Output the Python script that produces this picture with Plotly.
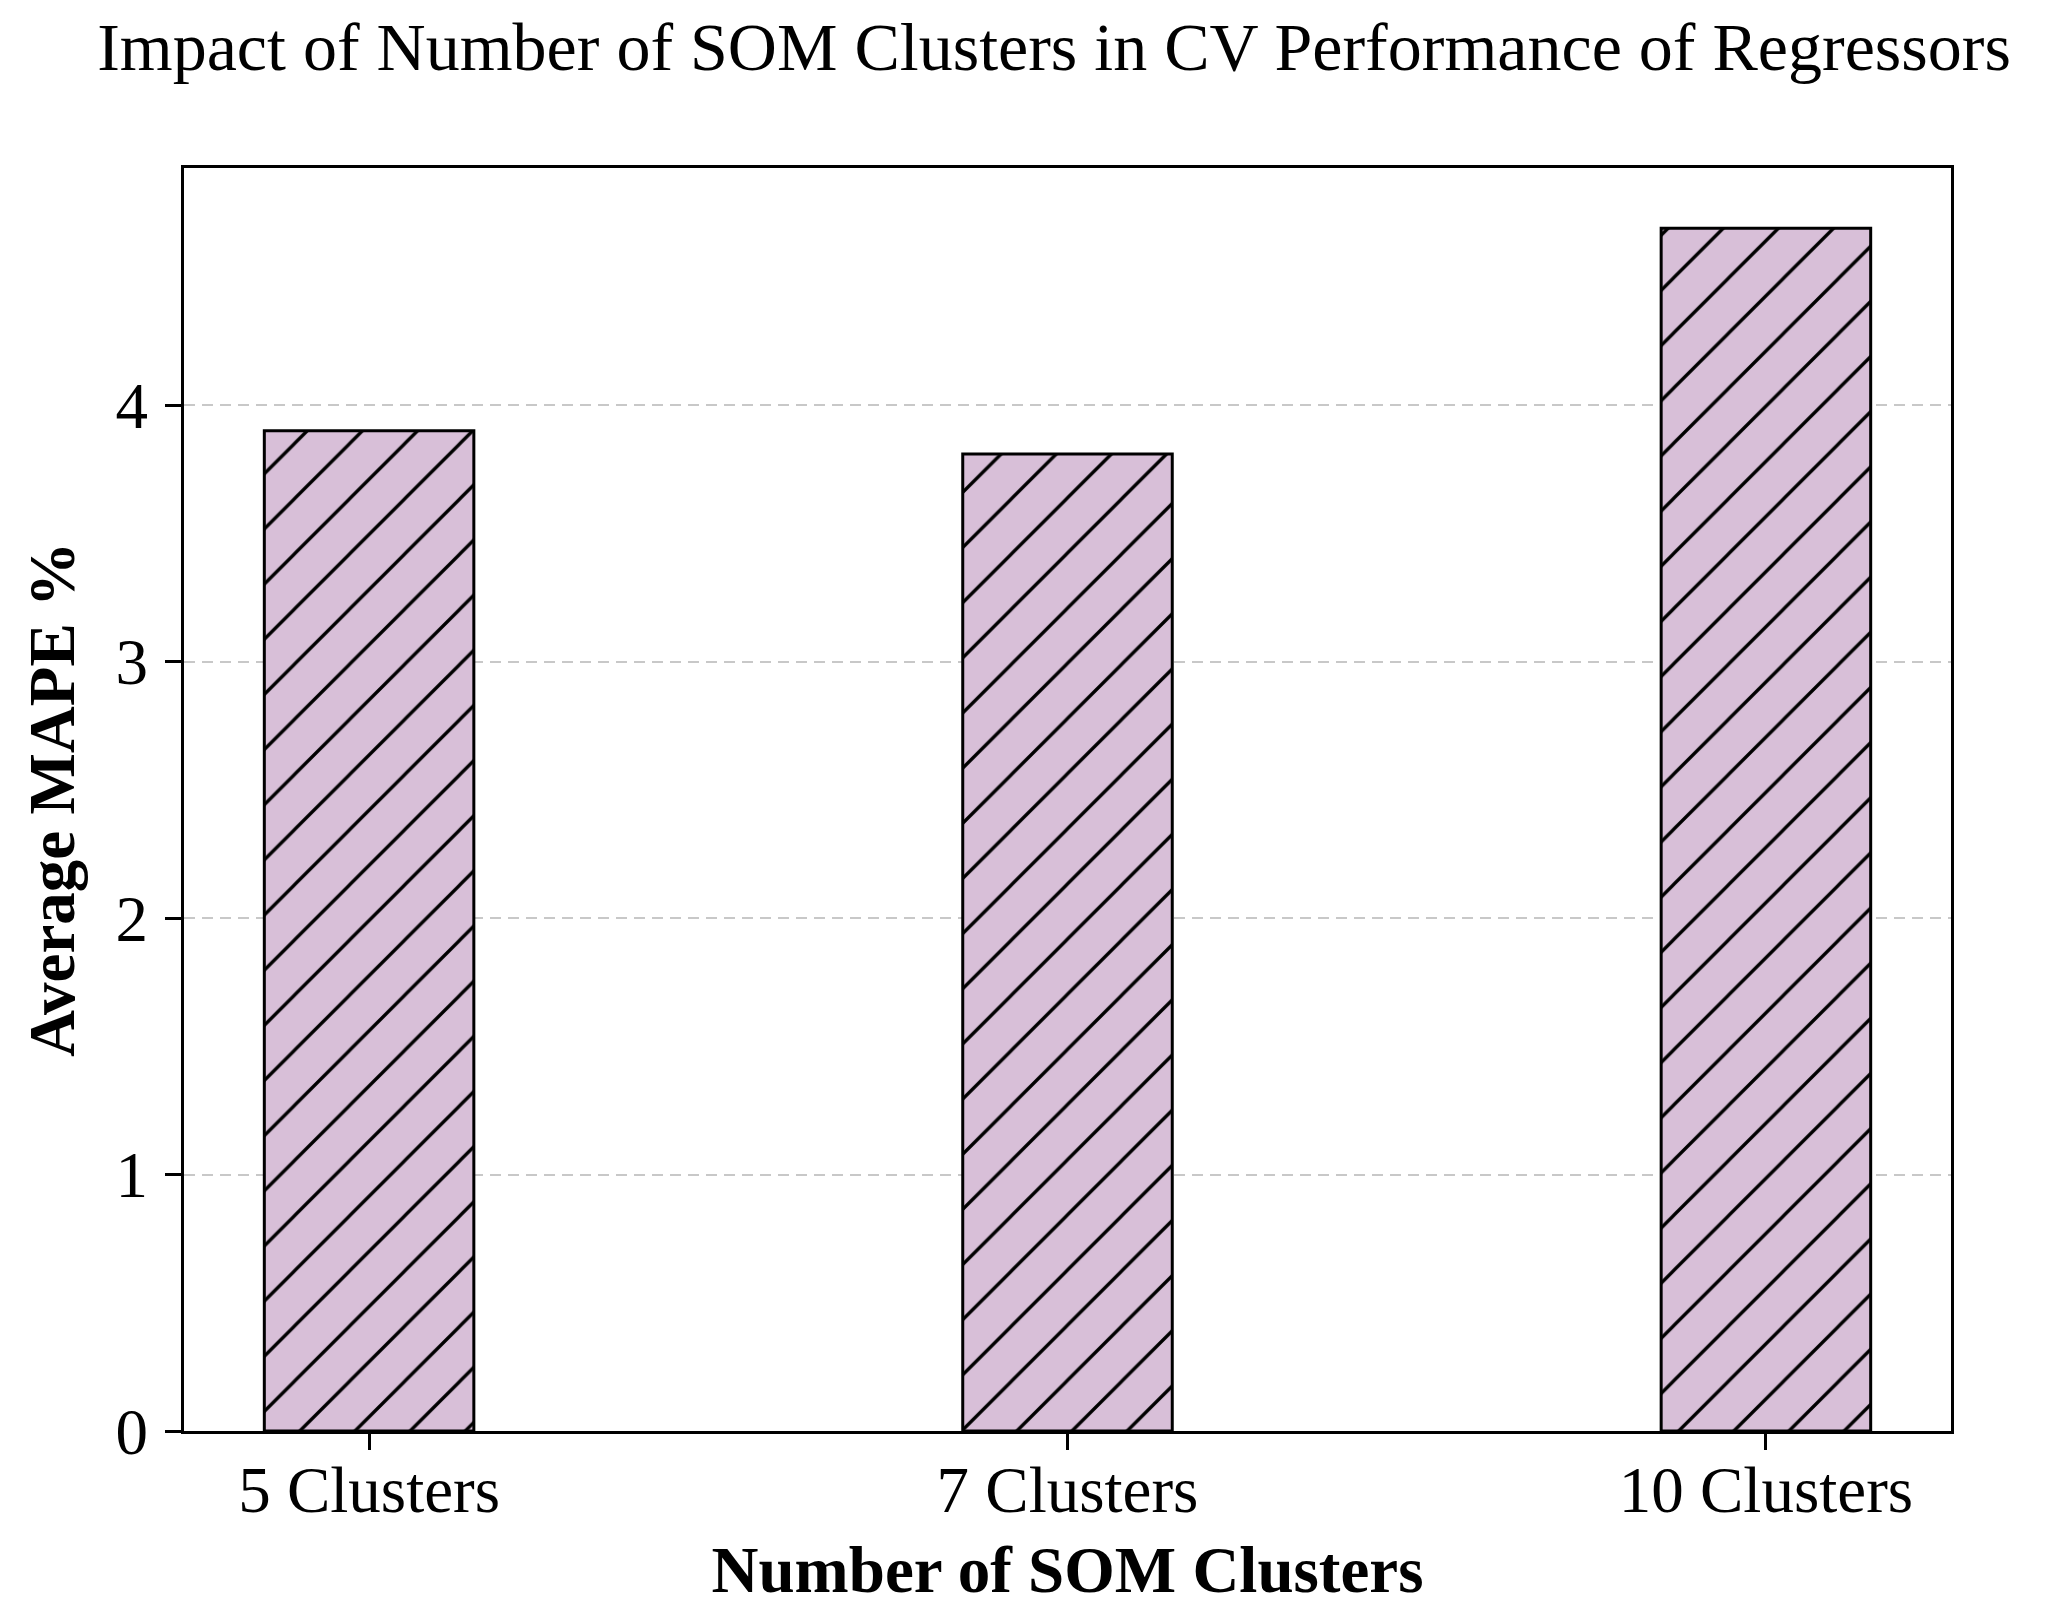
import plotly.graph_objects as go

categories = ["5 Clusters", "7 Clusters", "10 Clusters"]
mape_values = [3.90, 3.81, 4.69]
y_tick_values = [0, 1, 2, 3, 4]

FONT = "Liberation Serif, Times New Roman, serif"
W, H = 2055, 1615

fig = go.Figure()
fig.add_trace(go.Bar(
    x=categories,
    y=mape_values,
    width=0.3,
    marker=dict(
        color="#d8bfd8",
        line=dict(color="black", width=3),
        pattern=dict(shape="/", fgcolor="black", fgopacity=1, bgcolor="#d8bfd8",
                     size=39, solidity=0.085, fillmode="replace"),
    ),
    showlegend=False,
))

fig.update_layout(
    width=W, height=H,
    margin=dict(l=176, r=112, t=160, b=192),
    paper_bgcolor="white", plot_bgcolor="white",
    font=dict(family=FONT, size=65, color="black"),
    title=dict(text="Impact of Number of SOM Clusters in CV Performance of Regressors",
               x=0.509, xanchor="center", y=1 - 38 / H, yanchor="middle",
               font=dict(family=FONT, size=68, color="black")),
)

fig.update_xaxes(
    type="category",
    range=[-0.265, 2.265],
    showline=True, linecolor="black", linewidth=3, mirror=True,
    ticks="outside", ticklen=16, tickwidth=2.5, tickcolor="black",
    tickfont=dict(family=FONT, size=65, color="black"),
    ticklabelstandoff=-16,
    showgrid=False,
    title=dict(text="<b>Number of SOM Clusters</b>", standoff=22,
               font=dict(family=FONT, size=65, color="black")),
)

fig.update_yaxes(
    range=[0, 4.925],
    tickvals=y_tick_values,
    showline=True, linecolor="black", linewidth=3, mirror=True,
    ticks="outside", ticklen=16, tickwidth=2.5, tickcolor="black",
    tickfont=dict(family=FONT, size=65, color="black"),
    ticklabelstandoff=4,
    showgrid=True, gridcolor="#c8c8c8", gridwidth=2, griddash="11px,7px",
    zeroline=False,
    title=dict(text="<b>Average MAPE %</b>", standoff=20,
               font=dict(family=FONT, size=65, color="black")),
)

fig.write_html("out.html")
